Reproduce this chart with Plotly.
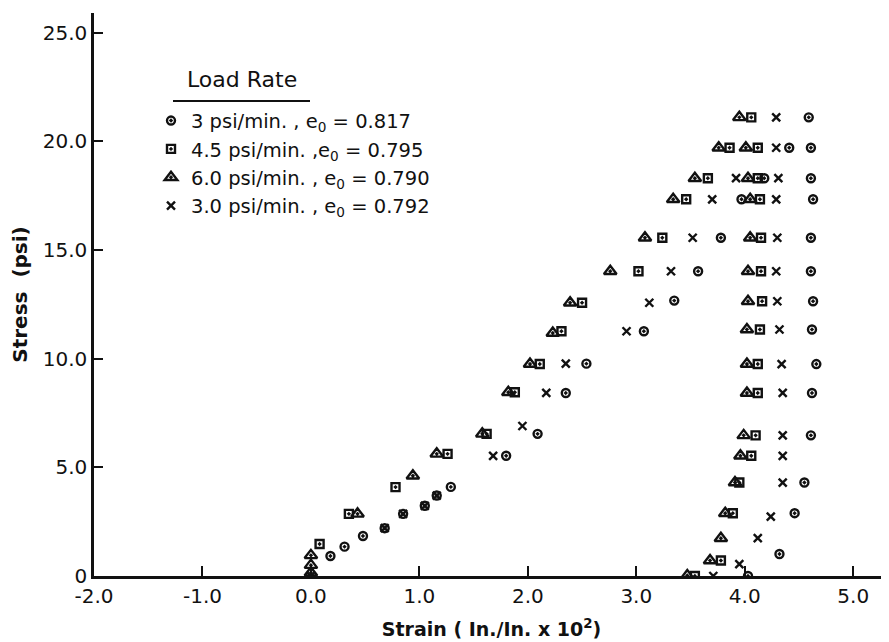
import plotly.graph_objects as go

# ---- data (strain in In./In. x 10^2, stress in psi) ----
circle_strain = [0.18, 0.31, 0.48, 0.68, 0.85, 1.05, 1.16, 1.29, 1.80, 2.09, 2.35, 2.54, 3.07, 3.35, 3.57, 3.78, 3.97, 4.18, 4.41, 4.59,
                 4.61, 4.61, 4.63, 4.61, 4.61, 4.63, 4.62, 4.66, 4.62, 4.61, 4.55, 4.46, 4.32, 4.03]
circle_stress = [0.92, 1.35, 1.84, 2.20, 2.86, 3.23, 3.70, 4.10, 5.53, 6.54, 8.42, 9.77, 11.26, 12.67, 14.02, 15.56, 17.33, 18.30, 19.70, 21.10,
                 19.70, 18.30, 17.33, 15.56, 14.02, 12.64, 11.34, 9.75, 8.42, 6.47, 4.30, 2.89, 1.01, 0.00]

square_strain = [0.08, 0.35, 0.78, 1.26, 1.62, 1.88, 2.11, 2.31, 2.50, 3.02, 3.24, 3.46, 3.66, 3.86, 4.06,
                 4.12, 4.12, 4.14, 4.15, 4.15, 4.16, 4.14, 4.12, 4.12, 4.10, 4.06, 3.95, 3.89, 3.78, 3.54]
square_stress = [1.47, 2.86, 4.09, 5.62, 6.54, 8.45, 9.75, 11.26, 12.57, 14.02, 15.56, 17.33, 18.30, 19.70, 21.10,
                 19.70, 18.30, 17.33, 15.56, 14.02, 12.64, 11.34, 9.75, 8.42, 6.47, 5.53, 4.30, 2.89, 0.71, 0.00]

triangle_strain = [0.00, 0.00, 0.00, 0.43, 0.94, 1.16, 1.58, 1.82, 2.02, 2.23, 2.39, 2.76, 3.08, 3.34, 3.54, 3.76, 3.95,
                   4.01, 4.03, 4.05, 4.05, 4.03, 4.03, 4.02, 4.02, 4.02, 3.99, 3.96, 3.91, 3.82, 3.78, 3.68, 3.47]
triangle_stress = [0.15, 0.50, 0.95, 2.86, 4.61, 5.62, 6.54, 8.45, 9.75, 11.18, 12.57, 14.02, 15.56, 17.33, 18.30, 19.70, 21.10,
                   19.70, 18.30, 17.33, 15.56, 14.02, 12.64, 11.34, 9.75, 8.42, 6.47, 5.53, 4.30, 2.89, 1.74, 0.71, 0.02]

cross_strain = [0.00, 0.68, 0.85, 1.05, 1.16, 1.68, 1.95, 2.17, 2.35, 2.91, 3.12, 3.32, 3.52, 3.70, 3.92, 4.29,
                4.29, 4.31, 4.29, 4.30, 4.29, 4.30, 4.32, 4.34, 4.35, 4.35, 4.35, 4.35, 4.24, 4.12, 3.95, 3.71]
cross_stress = [0.00, 2.20, 2.86, 3.23, 3.70, 5.53, 6.90, 8.42, 9.77, 11.26, 12.57, 14.02, 15.56, 17.33, 18.30, 21.10,
                19.70, 18.30, 17.33, 15.56, 14.02, 12.64, 11.34, 9.75, 8.42, 6.47, 5.53, 4.30, 2.73, 1.74, 0.55, 0.00]

series_names = [
    "3 psi/min. , e<sub>0</sub> = 0.817",
    "4.5 psi/min. ,e<sub>0</sub> = 0.795",
    "6.0 psi/min. , e<sub>0</sub> = 0.790",
    "3.0 psi/min. , e<sub>0</sub> = 0.792",
]
legend_title = "Load Rate"

x_tick_vals = [-2, -1, 0, 1, 2, 3, 4, 5]
x_tick_text = ["-2.0", "-1.0", "0.0", "1.0", "2.0", "3.0", "4.0", "5.0"]
y_tick_vals = [0, 5, 10, 15, 20, 25]
y_tick_text = ["0", "5.0", "10.0", "15.0", "20.0", "25.0"]

FONT = "DejaVu Sans"
INK = "#111111"

fig = go.Figure()
specs = [
    (circle_strain, circle_stress, "circle-dot", 8),
    (square_strain, square_stress, "square-dot", 8),
    (triangle_strain, triangle_stress, "triangle-up-dot", 11),
    (cross_strain, cross_stress, "x-thin", 8),
]
for (xs, ys, sym, sz), name in zip(specs, series_names):
    fig.add_trace(go.Scatter(
        x=xs, y=ys, mode="markers", name=name,
        marker=dict(symbol=sym, size=sz, color="rgba(0,0,0,0)",
                    line=dict(color=INK, width=2.4)),
    ))

# The page body adds an 8px offset; margins compensate so the plot area sits at x 94..889, y 13..576.
fig.update_layout(
    width=889, height=642,
    margin=dict(l=86, r=8, t=5, b=74),
    paper_bgcolor="white", plot_bgcolor="white",
    font=dict(family=FONT, color=INK),
    showlegend=True,
    legend=dict(
        x=0.0717, y=0.843, xanchor="left", yanchor="top",
        bgcolor="rgba(0,0,0,0)",
        font=dict(size=19.5, family=FONT, color=INK),
        itemwidth=30, tracegroupgap=0,
    ),
    xaxis=dict(
        range=[-2, 5.33], tickmode="array", tickvals=x_tick_vals, ticktext=x_tick_text,
        ticks="inside", ticklen=10, tickwidth=2, tickcolor=INK, automargin=False,
        showline=True, linecolor=INK, linewidth=2.5, showgrid=False, zeroline=False,
        tickfont=dict(size=20, family=FONT, color=INK),
        title=dict(text="<b>Strain ( In./In. x 10<sup>2</sup>)</b>", font=dict(size=19, family=FONT, color=INK), standoff=16),
    ),
    yaxis=dict(
        range=[0, 25.9], tickmode="array", tickvals=y_tick_vals, ticktext=y_tick_text,
        ticks="inside", ticklen=9, tickwidth=2, tickcolor=INK, automargin=False,
        showline=True, linecolor=INK, linewidth=2.5, showgrid=False, zeroline=False,
        tickfont=dict(size=20, family=FONT, color=INK),
        title=dict(text="<b>Stress  (psi)</b>", font=dict(size=20, family=FONT, color=INK), standoff=14),
    ),
)

# legend title and its underline
fig.add_annotation(text=legend_title, xref="paper", yref="paper",
                   x=(242 - 94) / 795, y=(576 - 80) / 563, xanchor="center", yanchor="middle",
                   showarrow=False, font=dict(size=22, family=FONT, color=INK))
fig.add_shape(type="line", xref="paper", yref="paper",
              x0=(173 - 94) / 795, x1=(310 - 94) / 795,
              y0=(576 - 101) / 563, y1=(576 - 101) / 563, line=dict(color=INK, width=2))

fig.write_html("out.html")
